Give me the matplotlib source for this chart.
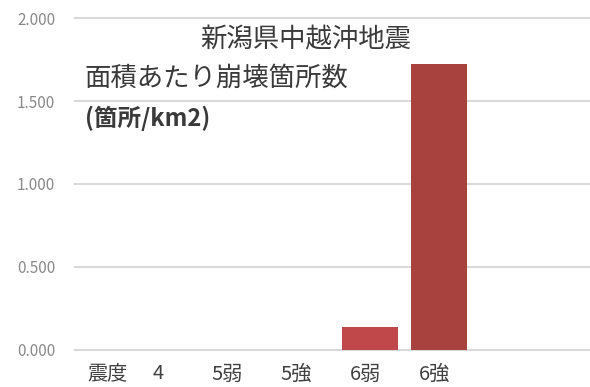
import matplotlib
matplotlib.use("Agg")
import matplotlib.pyplot as plt
from matplotlib.ticker import FuncFormatter

plt.rcParams['font.family'] = ['Noto Sans CJK JP', 'DejaVu Sans']

categories = ["震度", "4", "5弱", "5強", "6弱", "6強"]
values = [0.0, 0.0, 0.0, 0.0, 0.14, 1.72]
bar_colors = ["#C04A4C", "#C04A4C", "#C04A4C", "#C04A4C", "#C0474A", "#A8423F"]
yticks = [0.0, 0.5, 1.0, 1.5, 2.0]
title = "新潟県中越沖地震"
subtitle1 = "面積あたり崩壊箇所数"
subtitle2 = "(箇所/km2)"

W, H = 590, 387
fig = plt.figure(figsize=(W / 100, H / 100), dpi=100)

ax_left, ax_right = 74, 590
ax_bottom, ax_top = 353.3, 14.7
ax = fig.add_axes([ax_left / W, (H - ax_bottom) / H,
                   (ax_right - ax_left) / W, (ax_bottom - ax_top) / H])

x = list(range(len(categories)))
ax.bar(x, values, width=0.8, color=bar_colors, zorder=3)

ax.set_xlim(-0.29, 7.19)
ax.set_ylim(-0.02, 2.02)
ax.set_yticks(yticks)
ax.yaxis.set_major_formatter(FuncFormatter(lambda v, p: f"{v:.3f}"))
ax.tick_params(axis='y', length=0, pad=13.5, labelsize=11, labelcolor="#8a8a8a")
ax.set_xticks([])
for s in ax.spines.values():
    s.set_visible(False)
ax.grid(axis='y', color="#d9d9d9", linewidth=1.5, zorder=0)

# category labels
offsets = [0.2, -0.07, -0.07, -0.07, -0.07, -0.07]
for i, (c, off) in enumerate(zip(categories, offsets)):
    ax.text(i + off, -0.061, c, transform=ax.get_xaxis_transform(),
            ha='center', va='center', fontsize=14.5, color="#404040")

# titles
fig.text(200 / W, 1 - 40 / H, title, ha='left', va='center',
         fontsize=19, color="#3a3a3a")
fig.text(85 / W, 1 - 78 / H, subtitle1, ha='left', va='center',
         fontsize=19, color="#3a3a3a")
fig.text(85 / W, 1 - 118 / H, subtitle2, ha='left', va='center',
         fontsize=17, color="#3a3a3a", fontweight='bold')

fig.savefig("out.png", dpi=100)
